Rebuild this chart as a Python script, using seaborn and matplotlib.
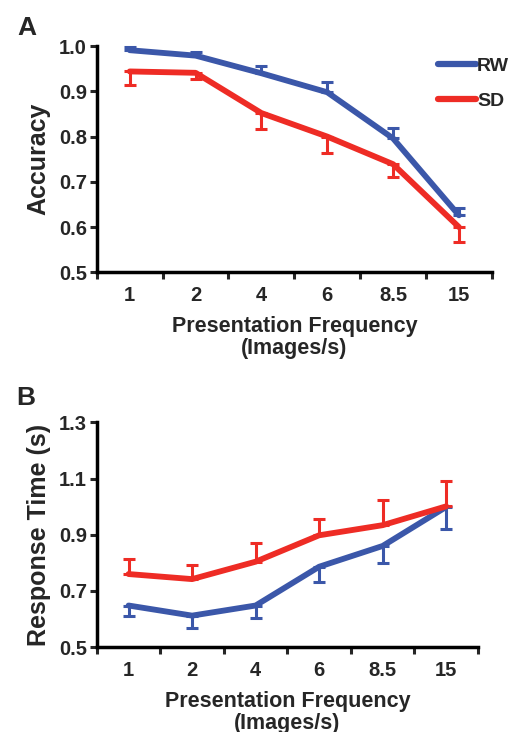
import matplotlib
matplotlib.use('Agg')
import numpy as np
import pandas as pd
import matplotlib.pyplot as plt
import seaborn as sns
from matplotlib.ticker import FixedLocator
from matplotlib.lines import Line2D

# presentation frequencies (images/s)
freq_labels = ['1', '2', '4', '6', '8.5', '15']

# panel A - accuracy
acc_rw = [0.991, 0.979, 0.940, 0.898, 0.796, 0.626]
acc_rw_err = [0.008, 0.007, 0.016, 0.023, 0.024, 0.017]
acc_sd = [0.944, 0.941, 0.852, 0.800, 0.739, 0.600]
acc_sd_err = [0.031, 0.014, 0.036, 0.037, 0.028, 0.033]

# panel B - response time (s)
rt_rw = [0.648, 0.612, 0.648, 0.786, 0.860, 0.999]
rt_rw_err = [0.037, 0.043, 0.043, 0.056, 0.062, 0.077]
rt_sd = [0.760, 0.742, 0.804, 0.898, 0.934, 1.001]
rt_sd_err = [0.055, 0.050, 0.067, 0.059, 0.090, 0.092]

BLUE = '#3b57a9'
RED = '#ee2c25'

sns.set_style('white')
plt.rcParams['font.family'] = ['Liberation Sans', 'DejaVu Sans']
plt.rcParams['font.weight'] = 'bold'


def make_df(rw, sd):
    n = len(freq_labels)
    return pd.DataFrame({'x': list(range(n)) * 2,
                         'value': list(rw) + list(sd),
                         'group': ['RW'] * n + ['SD'] * n})


def draw_panel(ax, rw, rw_err, sd, sd_err, rw_up, yticks, ylabel):
    df = make_df(rw, sd)
    x = np.arange(len(freq_labels))
    zeros = np.zeros(len(x))
    # one-sided error bars
    if rw_up:
        rw_yerr, sd_yerr = [zeros, rw_err], [sd_err, zeros]
    else:
        rw_yerr, sd_yerr = [rw_err, zeros], [zeros, sd_err]
    ax.errorbar(x, rw, yerr=rw_yerr, fmt='none', ecolor=BLUE,
                elinewidth=2.2, capsize=4, capthick=2.2)
    ax.errorbar(x, sd, yerr=sd_yerr, fmt='none', ecolor=RED,
                elinewidth=2.2, capsize=4, capthick=2.2)
    sns.lineplot(data=df, x='x', y='value', hue='group',
                 palette={'RW': BLUE, 'SD': RED}, linewidth=4.2,
                 legend=False, ax=ax)
    ax.set_xlim(-0.5, len(x) - 0.5)
    ax.set_ylim(yticks[0], yticks[-1])
    ax.set_xticks(x)
    ax.set_xticklabels(freq_labels, fontsize=14.5, fontweight='bold')
    ax.xaxis.set_minor_locator(FixedLocator(np.arange(-0.5, len(x), 1.0)))
    ax.tick_params(axis='x', which='major', length=0, pad=10)
    ax.tick_params(axis='x', which='minor', length=5, width=2.2,
                   direction='out', bottom=True)
    ax.set_yticks(yticks)
    ax.set_yticklabels(['%.1f' % t for t in yticks], fontsize=14.5,
                       fontweight='bold')
    ax.tick_params(axis='y', length=5, width=2.2, direction='out', left=True,
                   pad=2)
    ax.set_xlabel('Presentation Frequency\n(Images/s)', fontsize=15.5,
                  fontweight='bold', labelpad=8, linespacing=1.05)
    ax.set_ylabel(ylabel, fontsize=18, fontweight='bold', labelpad=6)
    sns.despine(ax=ax)
    for s in ['left', 'bottom']:
        ax.spines[s].set_linewidth(2.5)
        ax.spines[s].set_color('black')
    for line in ax.lines:
        line.set_clip_on(False)


fig = plt.figure(figsize=(5.15, 7.32), dpi=100)
ax_a = fig.add_axes([0.188, 0.628, 0.767, 0.309])
ax_b = fig.add_axes([0.188, 0.116, 0.740, 0.307])

draw_panel(ax_a, acc_rw, acc_rw_err, acc_sd, acc_sd_err, True,
           [0.5, 0.6, 0.7, 0.8, 0.9, 1.0], 'Accuracy')
draw_panel(ax_b, rt_rw, rt_rw_err, rt_sd, rt_sd_err, False,
           [0.5, 0.7, 0.9, 1.1, 1.3], 'Response Time (s)')

# legend in panel A
handles = [Line2D([], [], color=BLUE, linewidth=4.5),
           Line2D([], [], color=RED, linewidth=4.5)]
ax_a.legend(handles, ['RW', 'SD'], loc='upper left',
            bbox_to_anchor=(0.84, 0.995), frameon=False, handlelength=1.95,
            handletextpad=0.05, labelspacing=0.9, borderpad=0,
            prop={'weight': 'bold', 'size': 14})

fig.text(0.033, 0.962, 'A', fontsize=19, fontweight='bold', va='center')
fig.text(0.031, 0.456, 'B', fontsize=19, fontweight='bold', va='center')

fig.savefig('out.png', dpi=100)
